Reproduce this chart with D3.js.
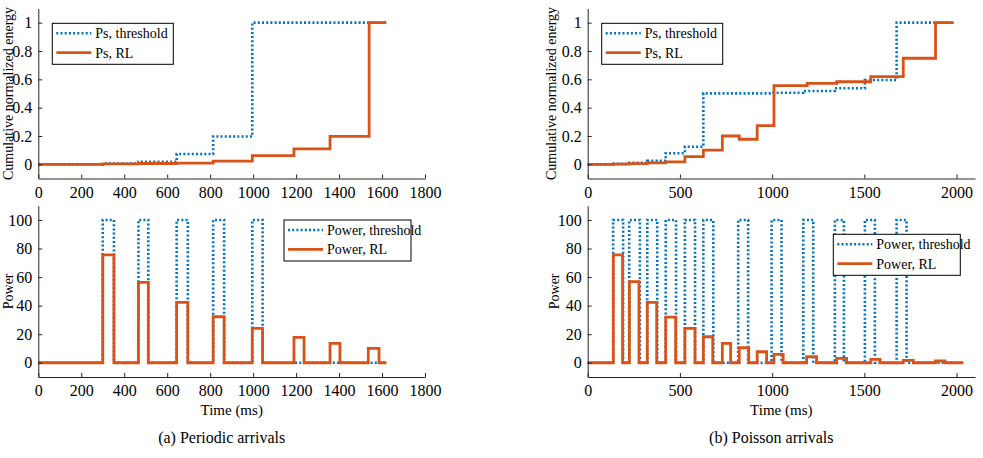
<!DOCTYPE html>
<html>
<head>
<meta charset="utf-8">
<script src="https://cdn.jsdelivr.net/npm/d3@7"></script>
<style>
  body { margin: 0; background: #fff; }
  svg { display: block; }
  text { font-family: "Liberation Serif", serif; fill: #000; }
</style>
</head>
<body>
<svg width="983" height="458"></svg>
<script>
// ---- data ----
const topLegend = ["Ps, threshold", "Ps, RL"];
const bottomLegend = ["Power, threshold", "Power, RL"];
const topYLabel = "Cumulative normalized energy";
const bottomYLabel = "Power";
const xLabel = "Time (ms)";
const captions = ["(a) Periodic arrivals", "(b) Poisson arrivals"];

const leftXTicks = [0, 200, 400, 600, 800, 1000, 1200, 1400, 1600, 1800];
const rightXTicks = [0, 500, 1000, 1500, 2000];
const cumTicks = [0, 0.2, 0.4, 0.6, 0.8, 1];
const powerTicks = [0, 20, 40, 60, 80, 100];

// (a) cumulative, step after
const aCumBlueT = [0, 300, 466, 644, 814, 996, 1620];
const aCumBlueV = [0, 0.006, 0.018, 0.073, 0.196, 1, 1];
const aCumRedT = [0, 300, 466, 644, 814, 996, 1190, 1358, 1540, 1620];
const aCumRedV = [0, 0.003, 0.006, 0.009, 0.023, 0.062, 0.109, 0.197, 1, 1];

// (a) power pulses
const aBlueStart = [300, 466, 644, 814, 996];
const aBlueStop = [352, 512, 696, 865, 1044];
const aBlueH = [100, 100, 100, 100, 100];
const aRedStart = [300, 466, 644, 814, 996, 1190, 1358, 1536];
const aRedStop = [352, 512, 696, 865, 1044, 1237, 1404, 1586];
const aRedH = [75.5, 56.3, 42.3, 32.2, 24.1, 17.8, 13.6, 10.1];
const aEnd = 1620;

// (b) cumulative
const bCumBlueT = [0, 138, 225, 323, 423, 527, 627, 997, 1169, 1340, 1503, 1675, 1985];
const bCumBlueV = [0, 0.003, 0.011, 0.025, 0.078, 0.124, 0.501, 0.505, 0.518, 0.537, 0.595, 1, 1];
const bCumRedT = [0, 139, 226, 323, 423, 527, 627, 730, 822, 919, 1010, 1190, 1350, 1535, 1711, 1886, 1985];
const bCumRedV = [0, 0.002, 0.005, 0.011, 0.018, 0.054, 0.101, 0.2, 0.177, 0.273, 0.556, 0.572, 0.583, 0.619, 0.749, 1, 1];

// (b) power pulses
const bBlueStart = [138, 225, 323, 423, 527, 627, 816, 997, 1169, 1340, 1503, 1675];
const bBlueStop = [192, 283, 377, 479, 582, 681, 870, 1051, 1223, 1389, 1557, 1729];
const bBlueH = [100, 100, 100, 100, 100, 100, 100, 100, 100, 100, 100, 100];
const bRedStart = [139, 226, 323, 423, 527, 627, 730, 822, 919, 1010, 1187, 1350, 1535, 1711, 1886];
const bRedStop = [189, 278, 374, 477, 582, 678, 775, 873, 970, 1060, 1241, 1404, 1585, 1765, 1937];
const bRedH = [75.5, 56.8, 42.3, 32, 24.1, 18.2, 13.6, 10.5, 7.7, 5.9, 4.2, 3.1, 2.4, 1.7, 1.2];
const bEnd = 2036;

const blue = "#0072BD";
const red = "#D95319";
const axisColor = "#262626";

const svg = d3.select("svg");

function zip(t, v) { return t.map((d, i) => [d, v[i]]); }
function pulses(starts, stops, h, end) {
  const pts = [[0, 0]];
  starts.forEach((s, i) => { pts.push([s, h[i]]); pts.push([stops[i], 0]); });
  pts.push([end, 0]);
  return pts;
}

function panel(o) {
  const x = d3.scaleLinear().domain(o.xDomain).range(o.xRange);
  const y = d3.scaleLinear().domain(o.yDomain).range(o.yRange);
  const g = svg.append("g");

  const line = d3.line().x(d => x(d[0])).y(d => y(d[1])).curve(d3.curveStepAfter);

  g.append("path").datum(o.blue)
    .attr("fill", "none").attr("stroke", blue).attr("stroke-width", 2.6)
    .attr("stroke-dasharray", "2,2.2").attr("d", line);
  g.append("path").datum(o.red)
    .attr("fill", "none").attr("stroke", red).attr("stroke-width", 2.8)
    .attr("d", line);

  const xa = g.append("g")
    .attr("transform", `translate(0,${o.yRange[0]})`)
    .call(d3.axisBottom(x).tickValues(o.xTicks).tickSizeInner(-4).tickSizeOuter(0).tickPadding(8).tickFormat(d => String(d)));
  const ya = g.append("g")
    .attr("transform", `translate(${o.xRange[0]},0)`)
    .call(d3.axisLeft(y).tickValues(o.yTicks).tickSizeInner(-4).tickSizeOuter(0).tickPadding(6).tickFormat(d => String(d)));
  [xa, ya].forEach(a => {
    a.selectAll("path,line").attr("stroke", axisColor);
    a.selectAll("text").style("font-family", "Liberation Serif").style("font-size", "16px").attr("fill", "#000");
  });

  g.append("text")
    .attr("transform", `translate(${o.yLabelX},${(o.yRange[0] + o.yRange[1]) / 2}) rotate(-90)`)
    .attr("text-anchor", "middle")
    .style("font-size", "14px")
    .text(o.yLabel);

  // legend
  const lg = g.append("g").attr("transform", `translate(${o.legend.x},${o.legend.y})`);
  lg.append("rect").attr("width", o.legend.w).attr("height", 41)
    .attr("fill", "#fff").attr("stroke", "#000").attr("stroke-width", 1);
  o.legend.labels.forEach((lab, i) => {
    const ry = 10 + i * 19.4;
    lg.append("line").attr("x1", 4).attr("x2", 39).attr("y1", ry).attr("y2", ry)
      .attr("stroke", i === 0 ? blue : red).attr("stroke-width", i === 0 ? 2.6 : 2.8)
      .attr("stroke-dasharray", i === 0 ? "2,2.2" : null);
    lg.append("text").attr("x", 43).attr("y", ry + 5)
      .style("font-size", "14px").text(lab);
  });
  return { x, y };
}

// (a) top
panel({
  xDomain: [0, 1800], xRange: [38.3, 425], yDomain: [-0.1, 1.1], yRange: [178.5, 8.5],
  xTicks: leftXTicks, yTicks: cumTicks,
  blue: zip(aCumBlueT, aCumBlueV), red: zip(aCumRedT, aCumRedV),
  yLabel: topYLabel, yLabelX: 13,
  legend: { x: 52.3, y: 23.3, w: 121, labels: topLegend }
});
// (a) bottom
panel({
  xDomain: [0, 1800], xRange: [38.3, 425], yDomain: [-10, 110], yRange: [377, 205.7],
  xTicks: leftXTicks, yTicks: powerTicks,
  blue: pulses(aBlueStart, aBlueStop, aBlueH, aEnd), red: pulses(aRedStart, aRedStop, aRedH, aEnd),
  yLabel: bottomYLabel, yLabelX: 13,
  legend: { x: 284, y: 220, w: 127, labels: bottomLegend }
});
// (b) top
panel({
  xDomain: [0, 2100], xRange: [587.7, 975], yDomain: [-0.1, 1.1], yRange: [178.5, 8.5],
  xTicks: rightXTicks, yTicks: cumTicks,
  blue: zip(bCumBlueT, bCumBlueV), red: zip(bCumRedT, bCumRedV),
  yLabel: topYLabel, yLabelX: 556,
  legend: { x: 601.7, y: 23.3, w: 121, labels: topLegend }
});
// (b) bottom
panel({
  xDomain: [0, 2100], xRange: [587.7, 975], yDomain: [-10, 110], yRange: [377, 205.7],
  xTicks: rightXTicks, yTicks: powerTicks,
  blue: pulses(bBlueStart, bBlueStop, bBlueH, bEnd), red: pulses(bRedStart, bRedStop, bRedH, bEnd),
  yLabel: bottomYLabel, yLabelX: 559,
  legend: { x: 833.3, y: 234.3, w: 127, labels: bottomLegend }
});

// x labels and sub-captions
[[231.7, 0], [781.3, 1]].forEach(([cx, i]) => {
  svg.append("text").attr("x", cx).attr("y", 415).attr("text-anchor", "middle")
    .style("font-size", "15px").text(xLabel);
  svg.append("text").attr("x", cx - 10).attr("y", 443).attr("text-anchor", "middle")
    .style("font-size", "16px").text(captions[i]);
});
</script>
</body>
</html>
